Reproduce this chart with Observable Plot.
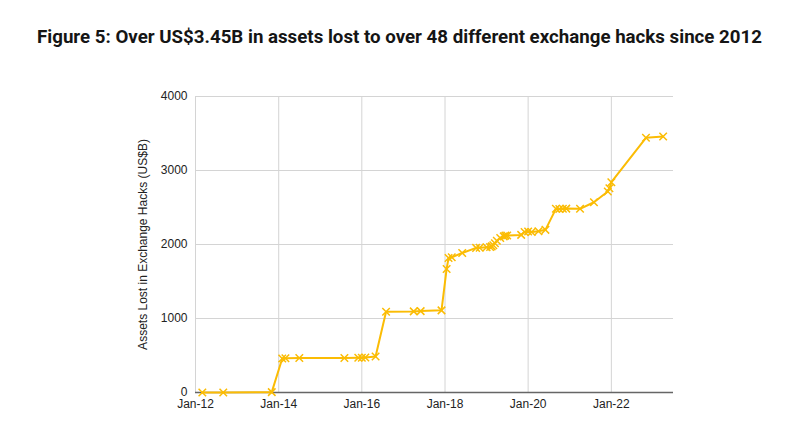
<!DOCTYPE html>
<html><head><meta charset="utf-8">
<script src="https://cdn.jsdelivr.net/npm/d3@7"></script>
<script src="https://cdn.jsdelivr.net/npm/@observablehq/plot@0.6"></script>
<style>
body{margin:0;background:#fff;width:805px;height:433px;overflow:hidden;font-family:"Liberation Sans",Arial,sans-serif}
#title{height:74px;position:relative}
#title span{position:absolute;left:37px;top:26px;font:700 19px Roboto,"Liberation Sans",sans-serif;line-height:22px;white-space:nowrap;transform-origin:0 50%;color:#151515}
</style></head><body>
<div id="title"><span id="t">Figure 5: Over US$3.45B in assets lost to over 48 different exchange hacks since 2012</span></div>
<div id="chart"></div>
<script>
const hackDates = [
  "2012-03-01","2012-09-01","2013-11-01","2014-02-01","2014-03-01","2014-07-01",
  "2015-08-01","2015-12-01","2016-01-01","2016-02-01","2016-05-01","2016-08-01",
  "2017-04-01","2017-06-01","2017-12-01","2018-01-15","2018-02-01","2018-03-01",
  "2018-06-01","2018-10-01","2018-11-01","2019-01-01","2019-02-01","2019-02-15",
  "2019-03-01","2019-03-15","2019-04-01","2019-05-01","2019-06-01","2019-06-15",
  "2019-07-01","2019-11-01","2019-12-01","2020-01-01","2020-02-01","2020-04-01",
  "2020-06-01","2020-09-01","2020-10-01","2020-11-01","2020-12-01","2021-04-01",
  "2021-08-01","2021-12-01","2021-12-15","2022-01-01","2022-11-01","2023-04-01"
];
const cumulativeLosses = [
  0, 0, 5, 460, 462, 465,
  467, 470, 470, 472, 487, 1092,
  1096, 1100, 1110, 1670, 1818, 1827,
  1886, 1954, 1956, 1962, 1965, 1975,
  1990, 2016, 2050, 2089, 2110, 2120,
  2122, 2130, 2170, 2175, 2168, 2179,
  2198, 2482, 2480, 2482, 2485, 2482,
  2571, 2716, 2760, 2842, 3442, 3460
];
const yTicks = [0, 1000, 2000, 3000, 4000];
const xTickYears = [2012, 2014, 2016, 2018, 2020, 2022];
const xDomain = ["2012-01-01", "2023-07-01"];
const yLabel = "Assets Lost in Exchange Hacks (US$B)";
const lineColor = "#fbbc04";

const data = hackDates.map((d, i) => ({date: new Date(d), value: cumulativeLosses[i]}));
const xTicks = xTickYears.map(y => new Date(Date.UTC(y, 0, 1)));
const fmt = d3.utcFormat("%b-%y");

const chart = Plot.plot({
  width: 805,
  height: 359,
  marginLeft: 195,
  marginRight: 132,
  marginTop: 22,
  marginBottom: 41,
  style: {fontFamily: "'Liberation Sans', Arial, sans-serif", fontSize: "12px", color: "#222", background: "#fff"},
  x: {type: "utc", domain: xDomain.map(d => new Date(d)), ticks: xTicks, tickFormat: fmt, tickSize: 0, tickPadding: 7, label: null},
  y: {domain: [0, 4000], ticks: yTicks, tickFormat: d3.format("d"), tickSize: 0, tickPadding: 8, label: null},
  marks: [
    Plot.gridX(xTicks, {stroke: "#d4d4d4", strokeOpacity: 1}),
    Plot.gridY(yTicks, {stroke: "#d4d4d4", strokeOpacity: 1}),
    Plot.ruleY([0], {stroke: "#666", strokeWidth: 1.5}),
    Plot.line(data, {x: "date", y: "value", stroke: lineColor, strokeWidth: 2}),
    Plot.dot(data, {x: "date", y: "value", symbol: "times", r: 3.5, stroke: lineColor, strokeWidth: 1.5}),
    Plot.text([yLabel], {frameAnchor: "left", textAnchor: "middle", rotate: -90, dx: -52, fontSize: 12, fill: "#222"})
  ]
});
document.getElementById("chart").appendChild(chart);

const t = document.getElementById("t");
const w = t.getBoundingClientRect().width;
t.style.transform = `scaleX(${725 / w})`;
</script>
</body></html>
